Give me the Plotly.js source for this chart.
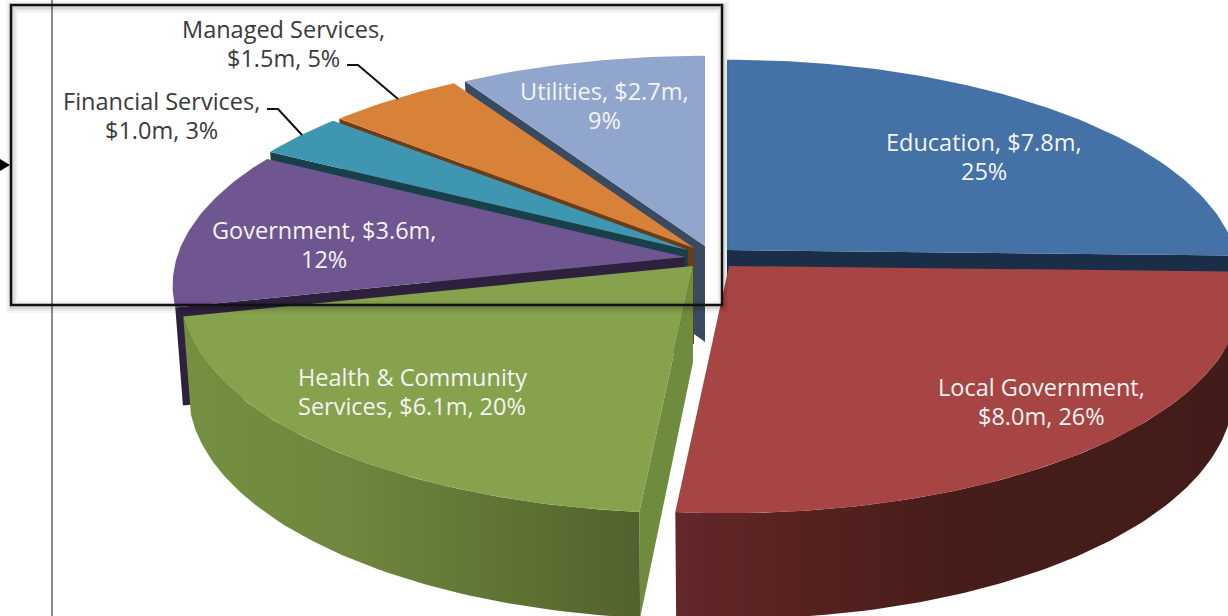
<!DOCTYPE html>
<html>
<head>
<meta charset="utf-8">
<script src="https://cdn.plot.ly/plotly-3.0.1.min.js"></script>
<style>html,body{margin:0;padding:0;background:#fff;overflow:hidden}#chart{width:1228px;height:616px}</style>
</head>
<body>
<div id="chart"></div>
<script>
// Revenue by sector, clockwise from twelve o'clock
const sectors = ['Education', 'Local Government', 'Health & Community Services', 'Government',
                 'Financial Services', 'Managed Services', 'Utilities'];
const revenueM = [7.8, 8.0, 6.1, 3.6, 1.0, 1.5, 2.7];
const sharePct = [25, 26, 20, 12, 3, 5, 9];
// Number of words on the first line of each label
const firstLineWords = [2, 2, 3, 2, 2, 2, 2];

// Styling per slice
const topColors  = ['#4471a6', '#a64543', '#86a24d', '#6f5690', '#3f96b0', '#d88139', '#91a6cc'];
const cutColors  = ['#1b2e47', '#421c1a', '#6f8b3e', '#2e213d', '#17404a', '#6a3d16', '#3a4a60'];
const explodeAt  = [[727, 250], [729, 266], [693, 266], [685, 257], [688, 250], [694, 248], [705, 246]];
const labelAt    = [[984, 142], [1041, 387], [412, 377], [324, 230], [161, 101], [283, 29], [604, 91]];
const labelInk   = ['#f4f4f4', '#f4f4f4', '#f4f4f4', '#f4f4f4', '#3a3a3a', '#3a3a3a', '#f4f4f4'];
const LINE_GAP = 29;

// Tilted-disc projection, in pixels of the hidden axes
const RX = 508, RY = 215, PERSPECTIVE = 0.13, DEPTH = 96, FLOOR_X = 0.985, FLOOR_Y = 1.04;

function topPoint(apex, deg) {
  const t = deg * Math.PI / 180, s = 1 / (1 + PERSPECTIVE * Math.cos(t));
  return [apex[0] + RX * Math.sin(t) * s, apex[1] - RY * Math.cos(t) * s];
}
function floorPoint(apex, deg) {
  const p = topPoint(apex, deg);
  return [apex[0] + FLOOR_X * (p[0] - apex[0]), apex[1] + DEPTH + FLOOR_Y * (p[1] - apex[1])];
}
function arc(fn, apex, from, to) {
  const pts = [], n = Math.max(2, Math.ceil(Math.abs(to - from)));
  for (let i = 0; i <= n; i++) pts.push(fn(apex, from + (to - from) * i / n));
  return pts;
}
function polygon(pts, fillStyle) {
  const xs = pts.map(p => p[0]).concat(pts[0][0]);
  const ys = pts.map(p => p[1]).concat(pts[0][1]);
  return Object.assign({x: xs, y: ys, type: 'scatter', mode: 'lines', fill: 'toself',
    line: {width: 0}, hoverinfo: 'skip', showlegend: false}, fillStyle);
}

const total = revenueM.reduce((a, b) => a + b, 0);
const startDeg = [];
revenueM.reduce((sum, v, i) => { startDeg[i] = sum / total * 360; return sum + v; }, 0);
const endDeg = startDeg.map((d, i) => d + revenueM[i] / total * 360);

function topFace(i) {
  return polygon([explodeAt[i]].concat(arc(topPoint, explodeAt[i], startDeg[i], endDeg[i])), {fillcolor: topColors[i]});
}
// Radial cut along the slice's leading edge
function cutFace(i, deg) {
  const a = explodeAt[i];
  return polygon([a, topPoint(a, deg), floorPoint(a, deg), [a[0], a[1] + DEPTH]], {fillcolor: cutColors[i]});
}
function rimWall(i, from, to, stops) {
  const a = explodeAt[i];
  const pts = arc(topPoint, a, from, to).concat(arc(floorPoint, a, to, from));
  return polygon(pts, {fillgradient: {type: 'horizontal', colorscale: stops}});
}

const traces = [
  cutFace(0, endDeg[0]), topFace(0),
  cutFace(6, startDeg[6]), topFace(6),
  cutFace(5, startDeg[5]), topFace(5),
  cutFace(4, startDeg[4]), topFace(4),
  cutFace(3, startDeg[3]), topFace(3),
  cutFace(2, startDeg[2]),
  rimWall(2, startDeg[2], endDeg[2], [[0, '#74903f'], [0.35, '#6f873f'], [0.7, '#5f7435'], [1, '#53622c']]),
  topFace(2),
  rimWall(1, startDeg[1], endDeg[1], [[0, '#64282a'], [0.25, '#55211f'], [0.5, '#461d1a'], [1, '#421c1a']]),
  topFace(1)
];

// Each label line is placed on its own so the leading stays fixed
const annotations = sectors.flatMap((name, i) => {
  const words = `${name}, $${revenueM[i].toFixed(1)}m, ${sharePct[i]}%`.split(' ');
  const lines = [words.slice(0, firstLineWords[i]).join(' '), words.slice(firstLineWords[i]).join(' ')];
  return lines.map((text, k) => ({x: labelAt[i][0], y: labelAt[i][1] + k * LINE_GAP, xref: 'x', yref: 'y', text,
    showarrow: false, align: 'center', xanchor: 'center', yanchor: 'middle',
    font: {family: '"Open Sans", Lato, sans-serif', size: 23.5, color: labelInk[i]}}));
});

const frameGlow = (w, alpha) => ({type: 'rect', xref: 'x', yref: 'y', x0: 12, x1: 723, y0: 7, y1: 307,
  line: {color: `rgba(0,0,0,${alpha})`, width: w}, layer: 'above'});

const shapes = [
  {type: 'line', xref: 'x', yref: 'y', x0: 52, x1: 52, y0: 0, y1: 616, line: {color: '#8c8c8c', width: 2}, layer: 'below'},
  frameGlow(12, 0.04), frameGlow(8, 0.05), frameGlow(4, 0.07),
  {type: 'rect', xref: 'x', yref: 'y', x0: 11, x1: 722, y0: 5, y1: 305, line: {color: '#111', width: 2.5}, layer: 'above'},
  {type: 'path', xref: 'x', yref: 'y', path: 'M0,159 L10,165 L0,171 Z', fillcolor: '#000', line: {width: 0}, layer: 'above'},
  {type: 'path', xref: 'x', yref: 'y', path: 'M347,65 L358,65 L398,99', line: {color: '#111', width: 2}, layer: 'above'},
  {type: 'path', xref: 'x', yref: 'y', path: 'M267,109 L278,109 L302,135', line: {color: '#111', width: 2}, layer: 'above'}
];

Plotly.newPlot('chart', traces, {
  width: 1228, height: 616,
  margin: {l: 0, r: 0, t: 0, b: 0},
  paper_bgcolor: '#fff', plot_bgcolor: '#fff',
  showlegend: false,
  xaxis: {range: [0, 1228], visible: false, fixedrange: true},
  yaxis: {range: [616, 0], visible: false, fixedrange: true},
  annotations, shapes
}, {displayModeBar: false, staticPlot: true});
</script>
</body>
</html>
